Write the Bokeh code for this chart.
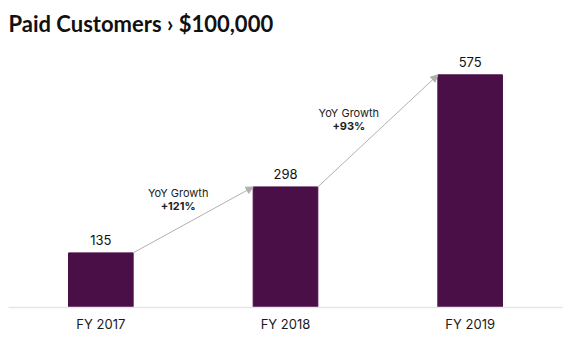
from bokeh.plotting import figure
from bokeh.models import Range1d, FixedTicker, Arrow, NormalHead, ColumnDataSource
from bokeh.core.properties import value
from bokeh.embed import file_html
from bokeh.resources import INLINE

categories = ["FY 2017", "FY 2018", "FY 2019"]
customers = [135, 298, 575]
growth_labels = ["+121%", "+93%"]
growth_title = "YoY Growth"
title_text = "Paid Customers \u203a $100,000"

FONT = "Inter"
BAR = "#4a0f47"
BW = 0.35

xs = [i + 0.5 for i in range(len(categories))]

p = figure(width=571, height=355, output_backend="svg", toolbar_location=None,
           x_range=Range1d(0, len(categories)), y_range=Range1d(0, 650),
           min_border_left=8, min_border_right=9, min_border_bottom=48, min_border_top=0)
p.title.text = title_text
p.title.text_font = "Lato"
p.title.text_font_size = "22px"
p.title.text_font_style = "bold"
p.title.text_color = "#111111"
p.title.offset = 0
p.title.standoff = 15

p.outline_line_color = None
p.background_fill_color = "white"
p.border_fill_color = "white"
p.xgrid.visible = False
p.ygrid.visible = False
p.yaxis.visible = False

src = ColumnDataSource(dict(x=xs, top=customers, lab=[str(v) for v in customers]))
p.vbar(x="x", top="top", bottom=0, width=BW, color=BAR, source=src)
p.text(x="x", y="top", text="lab", source=src, text_align="center", text_baseline="bottom",
       y_offset=-8, text_font=value(FONT), text_font_size="13px", text_color="#111111")

ax = p.xaxis[0]
ax.ticker = FixedTicker(ticks=xs)
ax.major_label_overrides = {x: c for x, c in zip(xs, categories)}
ax.major_tick_line_color = None
ax.minor_tick_line_color = None
ax.axis_line_color = "#e6e6e6"
ax.axis_line_width = 1.5
ax.major_label_text_font = FONT
ax.major_label_text_font_size = "13px"
ax.major_label_text_color = "#1a1a1a"
ax.major_label_standoff = 2

label_dx = [-15, -29]
label_dy = [14, 5]
for i in range(len(customers) - 1):
    x0 = xs[i] + BW / 2
    x1 = xs[i + 1] - BW / 2
    y0 = customers[i]
    y1 = customers[i + 1]
    p.add_layout(Arrow(x_start=x0, y_start=y0, x_end=x1, y_end=y1,
                       line_color="#b0b0b0", line_width=1,
                       end=NormalHead(size=7, fill_color="#b0b0b0", line_color="#b0b0b0")))
    mx = (x0 + x1) / 2
    my = (y0 + y1) / 2
    p.text(x=[mx], y=[my], text=[growth_title], text_align="center", text_baseline="middle",
           x_offset=label_dx[i], y_offset=-label_dy[i] - 13, text_font=value(FONT),
           text_font_size="11px", text_color="#222222")
    p.text(x=[mx], y=[my], text=[growth_labels[i]], text_align="center", text_baseline="middle",
           x_offset=label_dx[i], y_offset=-label_dy[i], text_font=value(FONT),
           text_font_size="11px", text_font_style="bold", text_color="#222222")

open("out.html", "w").write(file_html(p, INLINE))
